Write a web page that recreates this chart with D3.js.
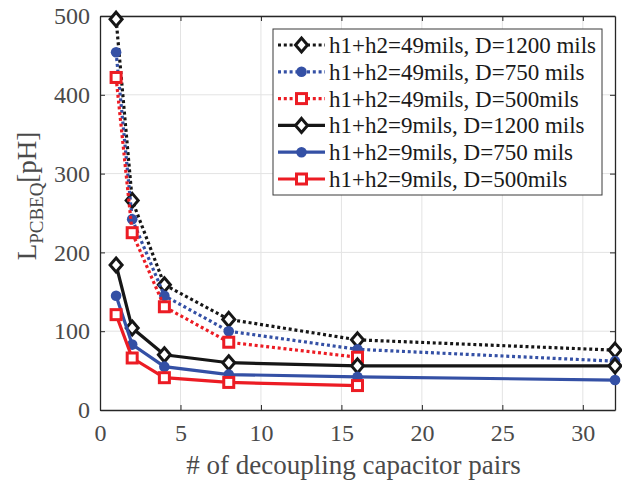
<!DOCTYPE html>
<html>
<head>
<meta charset="utf-8">
<script src="https://cdn.jsdelivr.net/npm/d3@7"></script>
<style>
  body { margin: 0; background: #fff; }
</style>
</head>
<body>
<div id="chart"></div>
<script>
// x values (number of capacitor pairs)
var pairs = [1, 2, 4, 8, 16, 32];
var pairs16 = [1, 2, 4, 8, 16];

// L_PCBEQ in pH
var thick1200 = [496, 266, 159, 115, 89, 76];
var thick750 = [454, 242, 145, 100, 77, 62];
var thick500 = [422, 225, 131, 86, 67];
var thin1200 = [184, 104, 70, 60, 56, 56];
var thin750 = [145, 83, 55, 45, 42, 38];
var thin500 = [121, 66, 41, 35, 31];

var labels = [
  "h1+h2=49mils, D=1200 mils",
  "h1+h2=49mils, D=750 mils",
  "h1+h2=49mils, D=500mils",
  "h1+h2=9mils, D=1200 mils",
  "h1+h2=9mils, D=750 mils",
  "h1+h2=9mils, D=500mils"
];
var xTicks = [0, 5, 10, 15, 20, 25, 30];
var yTicks = [0, 100, 200, 300, 400, 500];

var black = "#161616", blue = "#3450a5", red = "#ec1c24";
var FONT = "'Liberation Serif'";

var series = [
  {x: pairs, y: thick1200, color: black, dotted: true, marker: "diamond"},
  {x: pairs, y: thick750, color: blue, dotted: true, marker: "circle"},
  {x: pairs16, y: thick500, color: red, dotted: true, marker: "square"},
  {x: pairs, y: thin1200, color: black, dotted: false, marker: "diamond"},
  {x: pairs, y: thin750, color: blue, dotted: false, marker: "circle"},
  {x: pairs16, y: thin500, color: red, dotted: false, marker: "square"}
];

var W = 622, H = 483;
var margin = {left: 100, right: 7, top: 16, bottom: 73};
var width = W - margin.left - margin.right;
var height = H - margin.top - margin.bottom;

var svg = d3.select("#chart").append("svg")
  .attr("width", W)
  .attr("height", H);

var g = svg.append("g")
  .attr("transform", "translate(" + margin.left + "," + margin.top + ")");

var x = d3.scaleLinear().domain([0, 32]).range([0, width]);
var y = d3.scaleLinear().domain([0, 500]).range([height, 0]);

// grid
g.append("g").selectAll("line").data(xTicks.slice(1)).join("line")
  .attr("x1", d => x(d)).attr("x2", d => x(d))
  .attr("y1", 0).attr("y2", height)
  .attr("stroke", "#e3e3e3").attr("stroke-width", 1);
g.append("g").selectAll("line").data(yTicks.slice(1)).join("line")
  .attr("y1", d => y(d)).attr("y2", d => y(d))
  .attr("x1", 0).attr("x2", width)
  .attr("stroke", "#e3e3e3").attr("stroke-width", 1);

// axes, ticks pointing inward
var xAxis = g.append("g")
  .attr("transform", "translate(0," + height + ")")
  .call(d3.axisBottom(x).tickValues(xTicks).tickSizeInner(-5).tickSizeOuter(0).tickPadding(14));
var yAxis = g.append("g")
  .call(d3.axisLeft(y).tickValues(yTicks).tickSizeInner(-5).tickSizeOuter(0).tickPadding(10));
g.append("g")
  .call(d3.axisTop(x).tickValues(xTicks).tickSizeInner(-5).tickSizeOuter(0).tickFormat(""));
g.append("g")
  .attr("transform", "translate(" + width + ",0)")
  .call(d3.axisRight(y).tickValues(yTicks).tickSizeInner(-5).tickSizeOuter(0).tickFormat(""));

g.selectAll(".domain").attr("stroke", "#262626").attr("stroke-width", 1.3);
g.selectAll(".tick line").attr("stroke", "#262626");
[xAxis, yAxis].forEach(function(a) {
  a.attr("font-family", null).attr("font-size", null);
  a.selectAll("text")
    .style("font-family", FONT)
    .style("font-size", "24px")
    .attr("fill", "#4a4a4a");
});
yAxis.selectAll("text").attr("dy", "0.32em");

// lines
var line = d3.line()
  .x(d => x(d[0]))
  .y(d => y(d[1]));

function drawMarker(sel, type, color, cx, cy) {
  if (type === "diamond") {
    sel.append("path")
      .attr("d", "M0,-7L6,0L0,7L-6,0Z")
      .attr("transform", "translate(" + cx + "," + cy + ")")
      .attr("fill", "#fff").attr("stroke", color).attr("stroke-width", 3);
  } else if (type === "circle") {
    sel.append("circle")
      .attr("cx", cx).attr("cy", cy).attr("r", 5.3)
      .attr("fill", color);
  } else {
    sel.append("rect")
      .attr("x", cx - 5).attr("y", cy - 5)
      .attr("width", 10).attr("height", 10)
      .attr("fill", "#fff").attr("stroke", color).attr("stroke-width", 3);
  }
}

series.forEach(function(s) {
  var pts = s.x.map((v, i) => [v, s.y[i]]);
  var sg = g.append("g");
  sg.append("path")
    .datum(pts)
    .attr("d", line)
    .attr("fill", "none")
    .attr("stroke", s.color)
    .attr("stroke-width", 3.2)
    .attr("stroke-dasharray", s.dotted ? "3,2.8" : null);
  pts.forEach(function(p) {
    drawMarker(sg, s.marker, s.color, x(p[0]), y(p[1]));
  });
});

// axis labels
svg.append("text")
  .attr("x", margin.left + width / 2 - 4)
  .attr("y", 474)
  .attr("text-anchor", "middle")
  .attr("fill", "#4a4a4a")
  .style("font-family", FONT)
  .style("font-size", "27px")
  .text("# of decoupling capacitor pairs");

var yl = svg.append("text")
  .attr("transform", "translate(36,196) rotate(-90)")
  .attr("text-anchor", "middle")
  .attr("fill", "#4a4a4a")
  .style("font-family", FONT)
  .style("font-size", "27px");
yl.append("tspan").text("L");
yl.append("tspan").attr("dy", 7).style("font-size", "19px").text("PCBEQ");
yl.append("tspan").attr("dy", -7).text("[pH]");

// legend
var lg = svg.append("g").attr("transform", "translate(273,29)");
lg.append("rect")
  .attr("width", 329).attr("height", 166)
  .attr("fill", "#fff").attr("stroke", "#3a3a3a").attr("stroke-width", 1);
series.forEach(function(s, i) {
  var cy = 16 + i * 26.8;
  var row = lg.append("g");
  row.append("line")
    .attr("x1", 5).attr("x2", 52).attr("y1", cy).attr("y2", cy)
    .attr("stroke", s.color).attr("stroke-width", 3.2)
    .attr("stroke-dasharray", s.dotted ? "3,2.8" : null);
  drawMarker(row, s.marker, s.color, 28.5, cy);
  row.append("text")
    .attr("x", 56).attr("y", cy).attr("dy", "0.35em")
    .attr("fill", "#1a1a1a")
    .style("font-family", FONT)
    .style("font-size", "23px")
    .text(labels[i]);
});
</script>
</body>
</html>
